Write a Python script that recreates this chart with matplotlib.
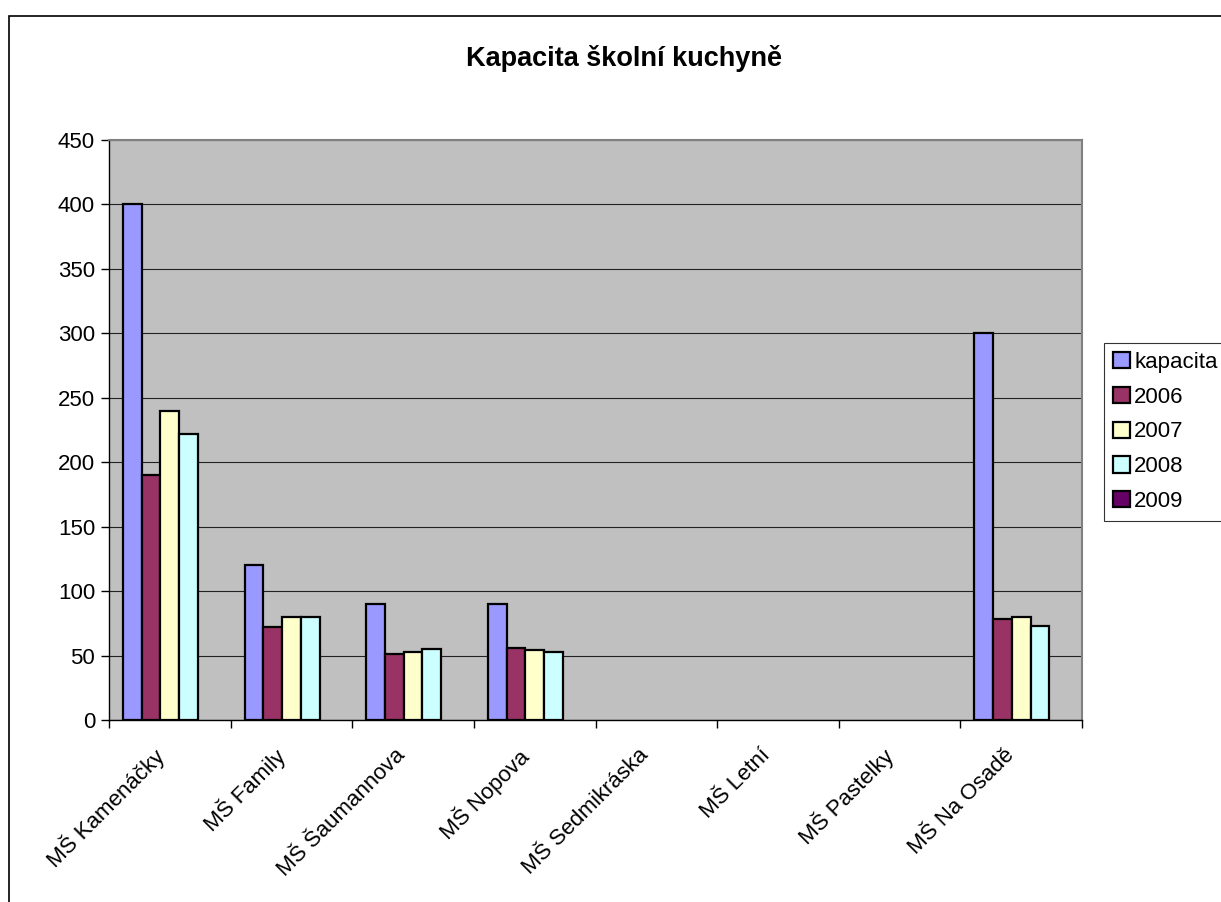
import numpy as np
import matplotlib.pyplot as plt
from matplotlib.patches import Rectangle
from matplotlib.transforms import ScaledTranslation

plt.rcParams['font.family'] = ['Liberation Sans', 'DejaVu Sans']

skoly = ['MŠ Kamenáčky', 'MŠ Family', 'MŠ Šaumannova', 'MŠ Nopova',
         'MŠ Sedmikráska', 'MŠ Letní', 'MŠ Pastelky', 'MŠ Na Osadě']
kapacita = [400, 120, 90, 90, np.nan, np.nan, np.nan, 300]
r2006 = [190, 72, 51, 56, np.nan, np.nan, np.nan, 78]
r2007 = [240, 80, 53, 54, np.nan, np.nan, np.nan, 80]
r2008 = [222, 80, 55, 53, np.nan, np.nan, np.nan, 73]
r2009 = [np.nan] * 8

serie = [kapacita, r2006, r2007, r2008, r2009]
nazvy = ['kapacita', '2006', '2007', '2008', '2009']
barvy = ['#9999FF', '#993366', '#FFFFCC', '#CCFFFF', '#660066']

W, H = 1221, 902
fig = plt.figure(figsize=(W / 100, H / 100), dpi=100)
ax = fig.add_axes([109 / W, 1 - 720 / H, (1082 - 109) / W, (720 - 140) / H])

# ramecek grafu (vpravo a dole oriznuty)
fig.patches.append(Rectangle((9 / W, -0.1), 1.2, 1 - 16 / H + 0.1,
                             transform=fig.transFigure, fill=False,
                             edgecolor='black', linewidth=1.2))

x = np.arange(len(skoly))
w = 1 / 6.5
for i, (vals, name, c) in enumerate(zip(serie, nazvy, barvy)):
    ax.bar(x + (i - 2) * w, vals, w, color=c, edgecolor='black',
           linewidth=1.6, label=name, zorder=3)

ax.set_facecolor('#C0C0C0')
ax.set_xlim(-0.5, len(skoly) - 0.5)
ax.set_ylim(0, 450)
ax.set_yticks(np.arange(0, 451, 50))
ax.yaxis.grid(True, color='#222222', linewidth=0.8, zorder=0)
ax.set_axisbelow(True)

ax.set_xticks(np.arange(-0.5, len(skoly), 1))
ax.set_xticklabels([])
ax.set_xticks(x, minor=True)
ax.set_xticklabels(skoly, minor=True, rotation=45, ha='right',
                   va='top', rotation_mode='anchor', fontsize=16)
ax.tick_params(axis='x', which='minor', length=0, pad=14)
ax.tick_params(axis='x', which='major', length=6, width=1, direction='out')
ax.tick_params(axis='y', length=6, width=1, direction='out', labelsize=16, pad=4)
posun = ScaledTranslation(-0.18, -0.05, fig.dpi_scale_trans)
for lab in ax.get_xticklabels(minor=True):
    lab.set_transform(lab.get_transform() + posun)

for s in ['top', 'right']:
    ax.spines[s].set_color('#808080')
    ax.spines[s].set_linewidth(1.5)
for s in ['left', 'bottom']:
    ax.spines[s].set_color('black')
    ax.spines[s].set_linewidth(1)

fig.text(624 / W, 1 - 58 / H, 'Kapacita školní kuchyně', ha='center',
         va='center', fontsize=19.5, fontweight='bold')

leg = fig.legend(loc='upper left', bbox_to_anchor=(1104 / W, 1 - 343 / H),
                 fontsize=16, frameon=True, fancybox=False, edgecolor='black',
                 handlelength=0.75, handleheight=0.75, handletextpad=0.2,
                 labelspacing=0.62, borderpad=0.4, borderaxespad=0)
leg.get_frame().set_linewidth(0.8)

plt.savefig('out.png', dpi=100)
